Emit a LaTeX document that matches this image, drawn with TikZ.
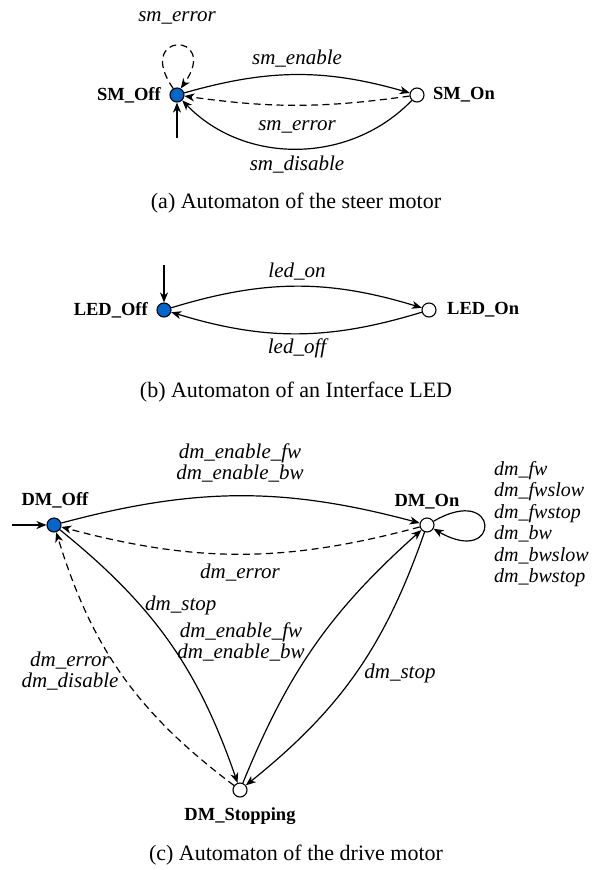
\documentclass[tikz,border=0pt]{standalone}
\usepackage{fontspec}
\setmainfont{Liberation Serif}
\usetikzlibrary{arrows.meta}
\definecolor{stblue}{RGB}{0,102,204}
\begin{document}
\begin{tikzpicture}[x=1pt,y=-1pt,
  st/.style={circle,draw,line width=1.1pt,minimum size=14pt,inner sep=0pt,fill=white},
  ini/.style={st,fill=stblue},
  nm/.style={font=\fontsize{18.5}{22}\selectfont\bfseries,inner sep=0pt},
  lab/.style={font=\fontsize{21}{20.5}\selectfont\itshape,inner sep=0pt,align=center},
  captext/.style={font=\fontsize{22}{26}\selectfont,inner sep=0pt},
  tr/.style={line width=1.2pt,-{Stealth[length=10pt,width=8pt,inset=3pt]}},
  dsh/.style={tr,dash pattern=on 7pt off 4.5pt}]
\useasboundingbox (0,0) rectangle (592,870);

% (a) steer motor
\node[ini] (smoff) at (177,95) {};
\node[st] (smon) at (417,95) {};
\node[nm,anchor=east] (smoffl) at (161,95) {SM\_Off};
\node[nm,anchor=west] (smonl) at (433,95) {SM\_On};
\coordinate (smi) at (177,138);
\draw[tr] (smi) -- (smoff);
\draw[dsh] (smoff.120) .. controls +(125:70pt) and +(55:70pt) .. (smoff.60);
\node[lab] (la1) at (177,18) {sm\_error};
\draw[tr] (smoff) to[bend left=16] (smon);
\node[lab] (la2) at (297,59) {sm\_enable};
\draw[dsh] (smon) to[bend left=8] (smoff);
\node[lab] (la3) at (297,127) {sm\_error};
\draw[tr] (smon) to[bend left=46] (smoff);
\node[lab] (la4) at (297,165) {sm\_disable};
\node[captext] (capa) at (296,203) {(a) Automaton of the steer motor};

% (b) interface LED
\node[ini] (ledoff) at (164,310) {};
\node[st] (ledon) at (429,310) {};
\node[nm,anchor=east] (ledoffl) at (148,310) {LED\_Off};
\node[nm,anchor=west] (ledonl) at (447,310) {LED\_On};
\coordinate (ledi) at (164,265);
\draw[tr] (ledi) -- (ledoff);
\draw[tr] (ledoff) to[bend left=17] (ledon);
\node[lab] (lb1) at (297,272) {led\_on};
\draw[tr] (ledon) to[bend left=17] (ledoff);
\node[lab] (lb2) at (297,348) {led\_off};
\node[captext] (capb) at (296,392) {(b) Automaton of an Interface LED};

% (c) drive motor
\node[ini] (dmoff) at (54,525) {};
\node[st] (dmon) at (427,525) {};
\node[st] (dmst) at (240,790) {};
\node[nm] (dmoffl) at (55,500) {DM\_Off};
\node[nm] (dmonl) at (427,502) {DM\_On};
\node[nm] (dmstl) at (240,816) {DM\_Stopping};
\coordinate (dmi) at (12,525);
\draw[tr] (dmi) -- (dmoff);
\draw[tr] (dmoff) to[bend left=15] (dmon);
\node[lab] (lc1) at (240,463) {dm\_enable\_fw\\dm\_enable\_bw};
\draw[dsh] (dmon) to[bend left=15] (dmoff);
\node[lab] (lc2) at (240,573) {dm\_error};
\draw[tr] (dmon.30) .. controls +(30:78pt) and +(-30:78pt) .. (dmon.-30);
\node[lab,font=\fontsize{20}{21.4}\selectfont\itshape,align=left,anchor=west] (lc3) at (494,524) {dm\_fw\\dm\_fwslow\\dm\_fwstop\\dm\_bw\\dm\_bwslow\\dm\_bwstop};
\draw[tr] (dmoff) to[bend left=16] (dmst);
\node[lab,anchor=west] (lc4) at (145,605) {dm\_stop};
\draw[dsh] (dmst) to[bend left=18] (dmoff);
\node[lab] (lc5) at (70,671) {dm\_error\\dm\_disable};
\draw[tr] (dmst) to[bend left=13] (dmon);
\node[lab] (lc6) at (241,642) {dm\_enable\_fw\\dm\_enable\_bw};
\draw[tr] (dmon) to[bend left=16] (dmst);
\node[lab] (lc7) at (400,673) {dm\_stop};
\node[captext] (capc) at (296,855) {(c) Automaton of the drive motor};
\end{tikzpicture}
\end{document}
